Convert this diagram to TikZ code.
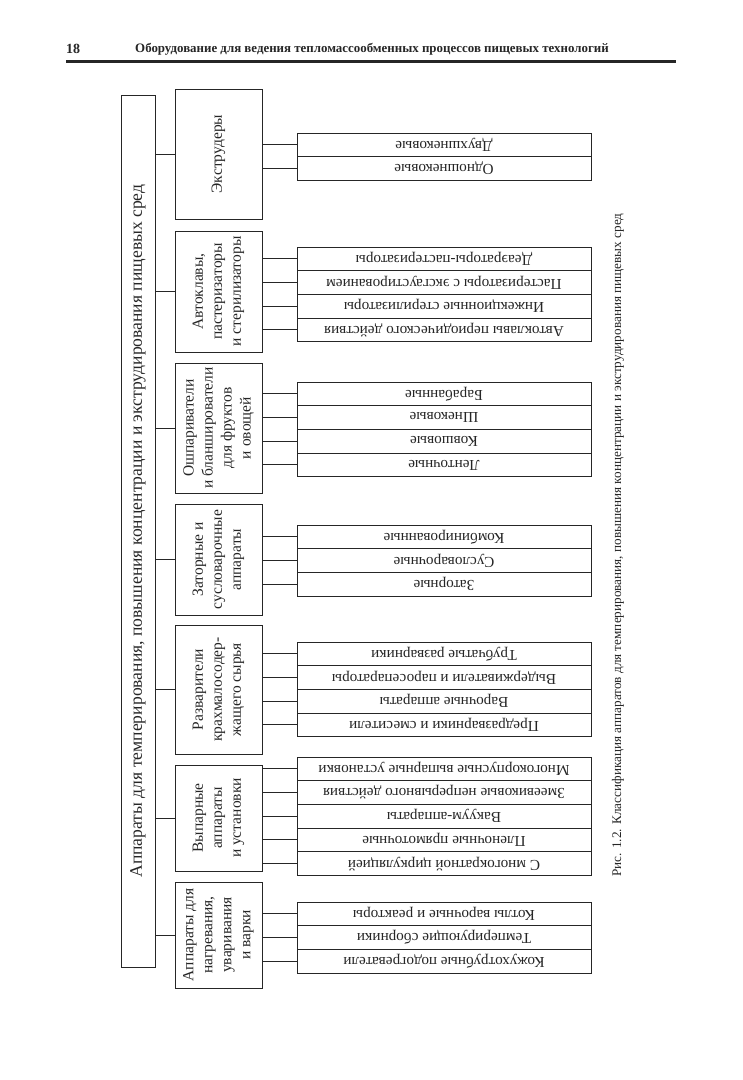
\documentclass[tikz,border=0pt]{standalone}
\usepackage{fontspec}
\setmainfont{Liberation Serif}
\usetikzlibrary{positioning}
\definecolor{ink}{HTML}{262626}

\begin{document}
\begin{tikzpicture}[x=1pt, y=-1pt, line width=1pt, color=ink,
    mainbox/.style={draw, rotate=90, minimum width=872, minimum height=34,
      inner sep=0pt, font=\fontsize{17.6}{20}\selectfont},
    groupbox/.style={draw, rotate=90, minimum height=87, inner sep=2pt,
      align=center, font=\fontsize{15.5}{19}\selectfont},
    itembox/.style={draw, rotate=180, minimum width=294, minimum height=23.7,
      inner sep=0pt, font=\fontsize{15.2}{16}\selectfont}]
    \useasboundingbox[fill=white] (0,0) rectangle (743,1080);

    % header of the page
    \node[font=\fontsize{14}{16}\bfseries] (pageno) at (73,49) {18};
    \node[font=\fontsize{12.9}{16}\bfseries] (runhead) at (372,49)
      {Оборудование для ведения тепломассообменных процессов пищевых технологий};
    \draw[line width=3pt] (66,61) -- (676,61);

    % root
    \node[mainbox] (main) at (138,531)
      {Аппараты для темперирования, повышения концентрации и экструдирования пищевых сред};

    % groups
    \node[groupbox, minimum width=130] (extr) at (218.5,154) {Экструдеры};
    \node[groupbox, minimum width=121] (autocl) at (218.5,291.5)
      {Автоклавы,\\пастеризаторы\\и стерилизаторы};
    \node[groupbox, minimum width=130] (blanch) at (218.5,428)
      {Ошпариватели\\и бланширователи\\для фруктов\\и овощей};
    \node[groupbox, minimum width=111] (mash) at (218.5,559.5)
      {Заторные и\\сусловарочные\\аппараты};
    \node[groupbox, minimum width=129] (boil) at (218.5,689.5)
      {Разварители\\крахмалосодер-\\жащего сырья};
    \node[groupbox, minimum width=106] (evap) at (218.5,818)
      {Выпарные\\аппараты\\и установки};
    \node[groupbox, minimum width=106] (heat) at (218.5,935)
      {Аппараты для\\нагревания,\\уваривания\\и варки};

    % items
    \node[itembox] (extr1) at (444,144.85) {Двухшнековые};
    \node[itembox] (extr2) at (444,168.55) {Одношнековые};

    \node[itembox] (autocl1) at (444,258.85) {Деаэраторы-пастеризаторы};
    \node[itembox] (autocl2) at (444,282.55) {Пастеризаторы с эксгаустированием};
    \node[itembox] (autocl3) at (444,306.25) {Инжекционные стерилизаторы};
    \node[itembox] (autocl4) at (444,329.95) {Автоклавы периодического действия};

    \node[itembox] (blanch1) at (444,393.85) {Барабанные};
    \node[itembox] (blanch2) at (444,417.55) {Шнековые};
    \node[itembox] (blanch3) at (444,441.25) {Ковшовые};
    \node[itembox] (blanch4) at (444,464.95) {Ленточные};

    \node[itembox] (mash1) at (444,536.85) {Комбинированные};
    \node[itembox] (mash2) at (444,560.55) {Сусловарочные};
    \node[itembox] (mash3) at (444,584.25) {Заторные};

    \node[itembox] (boil1) at (444,653.85) {Трубчатые разварники};
    \node[itembox] (boil2) at (444,677.55) {Выдерживатели и паросепараторы};
    \node[itembox] (boil3) at (444,701.25) {Варочные аппараты};
    \node[itembox] (boil4) at (444,724.95) {Предразварники и смесители};

    \node[itembox] (evap1) at (444,768.85) {Многокорпусные выпарные установки};
    \node[itembox] (evap2) at (444,792.55) {Змеевиковые непрерывного действия};
    \node[itembox] (evap3) at (444,816.25) {Вакуум-аппараты};
    \node[itembox] (evap4) at (444,839.95) {Пленочные прямоточные};
    \node[itembox] (evap5) at (444,863.65) {С многократной циркуляцией};

    \node[itembox] (heat1) at (444,913.85) {Котлы варочные и реакторы};
    \node[itembox] (heat2) at (444,937.55) {Темперирующие сборники};
    \node[itembox] (heat3) at (444,961.25) {Кожухотрубные подогреватели};

    % links root -> groups
    \foreach \g in {extr, autocl, blanch, mash, boil, evap, heat}
      \draw (\g.north) -- (\g.north -| main.south);

    % links groups -> items
    \foreach \g/\n in {extr/2, autocl/4, blanch/4, mash/3, boil/4, evap/5, heat/3}
      \foreach \i in {1,...,\n}
        \draw (\g\i.east) -- (\g\i.east -| \g.south);

    % caption
    \node[rotate=90, font=\fontsize{13.2}{16}\selectfont] (caption) at (618,545)
      {Рис. 1.2. Классификация аппаратов для темперирования, повышения концентрации и экструдирования пищевых сред};
\end{tikzpicture}
\end{document}
